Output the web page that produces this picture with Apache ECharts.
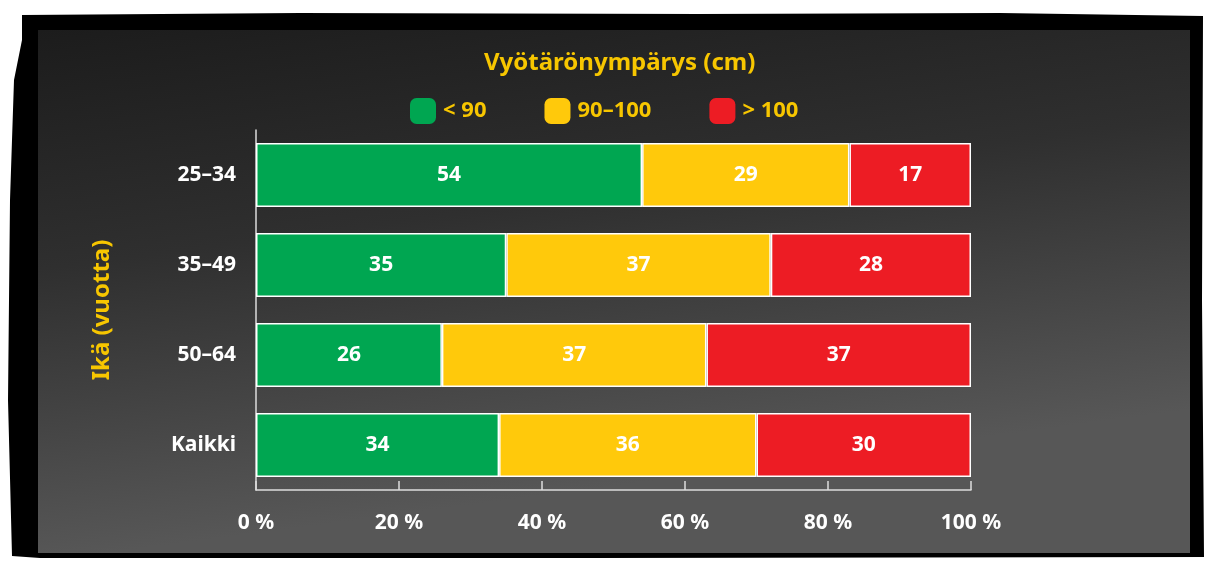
<!DOCTYPE html>
<html>
<head>
<meta charset="utf-8">
<script src="https://cdn.jsdelivr.net/npm/echarts@6/dist/echarts.min.js"></script>
<style>
  html, body { margin: 0; padding: 0; background: #fff; }
  #chart { width: 1209px; height: 561px; }
</style>
</head>
<body>
<div id="chart"></div>
<script>
// ikäryhmät ja vyötärönympärys-osuudet (%)
const ageGroups = ['25–34', '35–49', '50–64', 'Kaikki'];
const under90 = [54, 35, 26, 34];
const from90to100 = [29, 37, 37, 36];
const over100 = [17, 28, 37, 30];
const xTicks = [0, 20, 40, 60, 80, 100];

const gold = '#f7c600';
const font = 'Noto Sans';

const chart = echarts.init(document.getElementById('chart'));

const option = {
  backgroundColor: '#fff',
  textStyle: { fontFamily: font },
  graphic: [
    {
      type: 'polygon',
      z: -10,
      shape: {
        points: [[22, 15], [300, 13], [700, 14], [1000, 13], [1203, 16], [1202, 300], [1204, 557],
          [600, 558], [40, 558], [12, 556], [8, 400], [10, 200], [14, 80], [22, 40]]
      },
      style: { fill: '#000' }
    },
    {
      type: 'rect',
      z: -9,
      shape: { x: 38, y: 30, width: 1152, height: 523 },
      style: {
        fill: new echarts.graphic.LinearGradient(0, 0, 0.06, 1, [
          { offset: 0, color: '#1c1c1c' },
          { offset: 0.45, color: '#2f2f2f' },
          { offset: 1, color: '#575757' }
        ])
      }
    }
  ],
  title: {
    text: 'Vyötärönympärys (cm)',
    left: 479,
    top: 46,
    textStyle: { color: gold, fontSize: 24, fontWeight: 'bold', fontFamily: font }
  },
  legend: {
    left: 405,
    top: 93,
    icon: 'roundRect',
    itemWidth: 26,
    itemHeight: 26,
    itemGap: 58,
    itemStyle: { borderWidth: 0 },
    textStyle: { color: gold, fontSize: 22, fontWeight: 'bold', fontFamily: font, padding: [0, 0, 0, 2] },
    data: ['< 90', '90–100', '> 100']
  },
  grid: { left: 256, right: 238, top: 130, bottom: 71 },
  xAxis: {
    type: 'value',
    min: 0,
    max: 100,
    interval: 20,
    axisLine: { show: true, lineStyle: { color: '#ddd', width: 1.5 } },
    axisTick: { show: true, inside: true, length: 9, lineStyle: { color: '#ddd', width: 1.5 } },
    splitLine: { show: false },
    axisLabel: {
      color: '#fff', fontSize: 21, fontWeight: 'bold', margin: 23,
      formatter: v => xTicks.indexOf(v) >= 0 ? v + ' %' : ''
    }
  },
  yAxis: {
    type: 'category',
    inverse: true,
    data: ageGroups,
    name: 'Ikä (vuotta)',
    nameLocation: 'middle',
    nameRotate: 90,
    nameGap: 142,
    nameTextStyle: { color: gold, fontSize: 24, fontWeight: 'bold' },
    axisLine: { show: true, lineStyle: { color: '#ddd', width: 1.5 } },
    axisTick: { show: false },
    axisLabel: { color: '#fff', fontSize: 21, fontWeight: 'bold', margin: 20 }
  },
  series: [
    { name: '< 90', data: under90, color: '#00a651' },
    { name: '90–100', data: from90to100, color: '#ffc90b' },
    { name: '> 100', data: over100, color: '#ed1c24' }
  ].map(s => ({
    name: s.name,
    type: 'bar',
    stack: 'total',
    barCategoryGap: '29%',
    data: s.data,
    itemStyle: { color: s.color, borderColor: '#fff', borderWidth: 1.5 },
    label: { show: true, position: 'inside', color: '#fff', fontSize: 21, fontWeight: 'bold' }
  }))
};

chart.setOption(option);
</script>
</body>
</html>
